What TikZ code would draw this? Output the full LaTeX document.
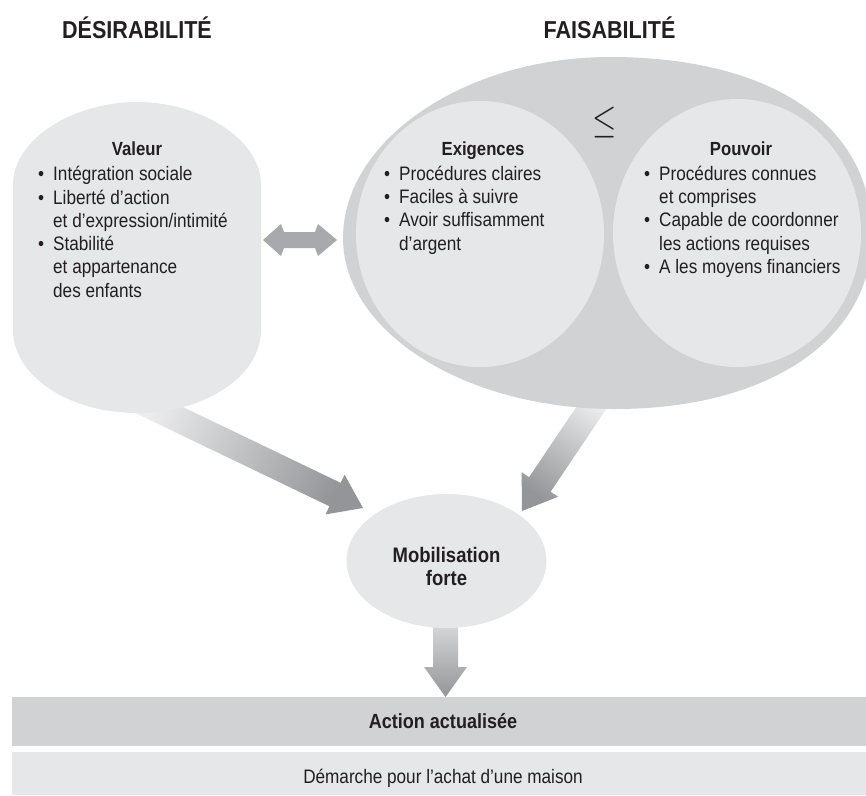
\RequirePackage{fix-cm}
\documentclass[tikz,border=0pt]{standalone}
\usepackage{fontspec}
\setmainfont[FakeStretch=0.88]{Liberation Sans}
\usepackage{graphicx}
\usetikzlibrary{shapes.geometric,calc}

\definecolor{ink}{HTML}{231F20}
\definecolor{palegray}{HTML}{E6E7E8}
\definecolor{midgray}{HTML}{D1D2D4}
\definecolor{arrowgray}{HTML}{A7A9AC}
\definecolor{shadelight}{HTML}{EDEDEE}
\definecolor{shadedark}{HTML}{939598}

% bullet item and continuation indent
\newcommand{\itm}{\makebox[15pt][l]{•}}
\newcommand{\cnt}{\hspace*{15pt}}

% wide arrow: #1 style, #2 start, #3 tip, #4 shaft half width, #5 head half width, #6 head length
\newcommand{\fatarrow}[6]{%
  \coordinate (fa-b) at ($(#3)!#6!(#2)$);
  \shade[#1] ($(#2)!#4!90:(#3)$) -- ($(fa-b)!#4!90:(#3)$) -- ($(fa-b)!#5!90:(#3)$)
    -- (#3) -- ($(fa-b)!#5!-90:(#3)$) -- ($(fa-b)!#4!-90:(#3)$)
    -- ($(#2)!#4!-90:(#3)$) -- cycle;}

\tikzset{
  heading/.style={font=\fontsize{24.5}{28}\selectfont\bfseries, text=ink, inner sep=0, anchor=base},
  boxtitle/.style={font=\fontsize{19}{23}\selectfont\bfseries, text=ink, inner sep=0, anchor=base},
  bullets/.style={font=\fontsize{19.5}{23.3}\selectfont, text=ink, inner sep=0, align=left, anchor=north west},
  bubble/.style={ellipse, fill=palegray, inner sep=0},
  band/.style={rectangle, inner sep=0, minimum width=854pt},
}

\begin{document}
\begin{tikzpicture}[x=1pt,y=-1pt]
\useasboundingbox (0,0) rectangle (866,795);

% anchor points of the wide arrows
\coordinate (val-out) at (130,396);
\coordinate (mob-inl) at (363,508);
\coordinate (fai-out) at (600,395);
\coordinate (mob-inr) at (522,511);
\coordinate (mob-out) at (445.5,600);
\coordinate (act-in) at (445.5,697);

% shaded arrows (drawn first, their tails hide under the shapes)
\fatarrow{top color=shadelight, bottom color=shadedark, shading angle=64.3}{val-out}{mob-inl}{13pt}{22pt}{31pt}
\fatarrow{top color=shadelight, bottom color=shadedark, shading angle=-33.9}{fai-out}{mob-inr}{13pt}{22pt}{32pt}
\fatarrow{top color=shadelight, bottom color=shadedark, shading angle=0}{mob-out}{act-in}{12.5pt}{21.5pt}{30pt}

% Valeur shape
\fill[palegray] (13,185) .. controls (13,138) and (75,102) .. (137,102)
  .. controls (199,102) and (261,138) .. (261,185) -- (261,330)
  .. controls (261,376) and (205,413) .. (137,413)
  .. controls (69,413) and (13,376) .. (13,330) -- cycle;

% Faisabilite outer shape
\fill[midgray] (343,238) .. controls (343,140) and (465,57) .. (610,57)
  .. controls (772,57) and (872,125) .. (872,235)
  .. controls (872,339) and (769,409) .. (615,409)
  .. controls (465,409) and (343,332) .. cycle;

% inner bubbles
\node[bubble, minimum width=248pt, minimum height=266pt] (exig) at (480,234) {};
\node[bubble, minimum width=248pt, minimum height=268pt] (pouv) at (737,233) {};
\node[bubble, minimum width=200pt, minimum height=134pt] (mob) at (446.5,561) {};

% double arrow between the two columns
\coordinate (dl) at (263,240);
\coordinate (dr) at (337,240);
\fill[arrowgray] (dl) -- ($(dl)+(18,-16)$) -- ($(dl)+(21,-8)$) -- ($(dr)+(-22,-8)$)
  -- ($(dr)+(-19,-16)$) -- (dr) -- ($(dr)+(-19,16)$) -- ($(dr)+(-22,8)$)
  -- ($(dl)+(21,8)$) -- ($(dl)+(18,16)$) -- cycle;

% bottom bands
\node[band, fill=midgray, minimum height=49pt] (action) at (439,721.5) {};
\node[band, fill=palegray, minimum height=43pt] (demarche) at (439,773.5) {};

% headings
\node[heading] (t-des) at (137,38) {DÉSIRABILITÉ};
\node[heading] (t-fai) at (609.5,38) {FAISABILITÉ};

% Valeur
\node[boxtitle] (t-val) at (137,155) {Valeur};
\node[bullets] (l-val) at (38,165.5) {\rule{0pt}{15pt}\itm Intégration sociale\\
  \itm Liberté d’action\\
  \cnt et d’expression/intimité\\
  \itm Stabilité\\
  \cnt et appartenance\\
  \cnt des enfants};

% Exigences
\node[boxtitle] (t-exi) at (483,155) {Exigences};
\node[bullets] (l-exi) at (384,165) {\rule{0pt}{15pt}\itm Procédures claires\\
  \itm Faciles à suivre\\
  \itm Avoir suffisamment\\
  \cnt d’argent};

% Pouvoir
\node[boxtitle] (t-pou) at (741,155) {Pouvoir};
\node[bullets] (l-pou) at (644,165) {\rule{0pt}{15pt}\itm Procédures connues\\
  \cnt et comprises\\
  \itm Capable de coordonner\\
  \cnt les actions requises\\
  \itm A les moyens financiers};

% relation sign
\node[text=ink, inner sep=0] (le) at (605,122) {\scalebox{0.78}[1]{\fontsize{40}{40}\selectfont$\leq$}};

% Mobilisation
\node[font=\fontsize{21}{23.5}\selectfont\bfseries, text=ink, inner sep=0, align=center, anchor=north]
  (t-mob) at (446.5,546) {\rule{0pt}{16pt}Mobilisation\\forte};

% band labels
\node[font=\fontsize{20.5}{24}\selectfont\bfseries, text=ink, inner sep=0, anchor=base] (t-act) at (443,728.5) {Action actualisée};
\node[font=\fontsize{19.5}{23}\selectfont, text=ink, inner sep=0, anchor=base] (t-dem) at (443,783) {Démarche pour l’achat d’une maison};
\end{tikzpicture}
\end{document}
